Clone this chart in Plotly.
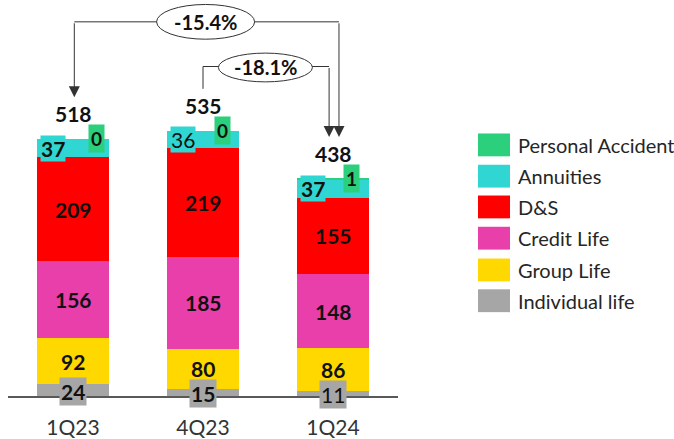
import plotly.graph_objects as go

# Quarterly premiums by line of business
quarters = ["1Q23", "4Q23", "1Q24"]
series_names = ["Individual life", "Group Life", "Credit Life", "D&S", "Annuities", "Personal Accident"]
individual_life = [24, 15, 11]
group_life = [92, 80, 86]
credit_life = [156, 185, 148]
d_and_s = [209, 219, 155]
annuities = [37, 36, 37]
personal_accident = [0, 0, 1]

series_values = [individual_life, group_life, credit_life, d_and_s, annuities, personal_accident]
colors = ["#A6A6A6", "#FFD800", "#E83FAB", "#FF0000", "#30D6D1", "#2BCF7C"]

FONT = "Lato"
TXT = "#111111"

# figure geometry (pixels)
W, H = 674, 439
ML, MR, MT, MB = 8, 276, 0, 40
PW, PH = W - ML - MR, H - MT - MB
Y_MAX = 798.0
U_PER_PX = Y_MAX / PH


def px2paper_x(x):
    return (x - ML) / PW


def px2paper_y(y):
    return (MT + PH - y) / PH


fig = go.Figure()
for name, vals, col in zip(series_names, series_values, colors):
    fig.add_trace(go.Bar(
        x=quarters, y=vals, name=name, marker=dict(color=col, line=dict(width=0)),
        width=0.56, showlegend=False, hoverinfo="skip",
    ))

annotations = []
shapes = []

totals = [sum(v[i] for v in series_values) for i in range(len(quarters))]
plain_labels = {("Annuities", 1), ("Individual life", 2)}
NUM = 21

for i, q in enumerate(quarters):
    base = 0
    for name, vals, col in zip(series_names, series_values, colors):
        v = vals[i]
        mid = base + v / 2
        weight = "normal" if (name, i) in plain_labels else "bold"
        label = dict(x=q, y=mid, xref="x", yref="y", text=str(v), showarrow=False,
                     font=dict(family=FONT, size=NUM, color=TXT, weight=weight))
        if name == "Individual life":
            label.update(bgcolor=col, borderpad=1, yshift=-1)
        elif name == "Annuities":
            label.update(bgcolor=col, borderpad=0, xshift=-20)
        elif name == "Personal Accident":
            label.update(y=base + v, bgcolor=col, borderpad=2, xshift=[23, 19, 18][i],
                         font=dict(family=FONT, size=19, color=TXT, weight="bold"))
        annotations.append(label)
        base += v
    annotations.append(dict(x=q, y=totals[i], xref="x", yref="y", text=str(totals[i]),
                            showarrow=False, yshift=25,
                            font=dict(family=FONT, size=NUM, color=TXT, weight="bold")))

# growth connectors
LINE = "#333333"
arrow_gap = 42 * U_PER_PX


def conn_line(x0, y0, x1, y1):
    shapes.append(dict(type="line", xref="x", yref="y", x0=x0, y0=y0, x1=x1, y1=y1,
                       line=dict(color=LINE, width=1)))


def arrow_down(x, y_from, y_tip):
    annotations.append(dict(x=x, y=y_tip, ax=x, ay=y_from, xref="x", yref="y",
                            axref="x", ayref="y", text="", showarrow=True,
                            arrowhead=2, arrowsize=2.2, arrowwidth=1, arrowcolor=LINE,
                            standoff=0, startstandoff=0))


def bubble(xc, yc, half_w_px, half_h_px, text):
    shapes.append(dict(type="circle", xref="x", yref="y",
                       x0=xc - half_w_px / 130, x1=xc + half_w_px / 130,
                       y0=yc - half_h_px * U_PER_PX, y1=yc + half_h_px * U_PER_PX,
                       fillcolor="white", line=dict(color=LINE, width=1), layer="above"))
    annotations.append(dict(x=xc, y=yc, xref="x", yref="y", text=text, showarrow=False,
                            font=dict(family=FONT, size=20, color=TXT, weight="bold")))


chg_year = (totals[2] - totals[0]) / totals[0] * 100
chg_qtr = (totals[2] - totals[1]) / totals[1] * 100

# 1Q23 -> 1Q24
y_top = (PH + MT - 22) * U_PER_PX
xa, xb = 0.01, 2.046
conn_line(xa, y_top, xb, y_top)
arrow_down(xa, y_top, totals[0] + arrow_gap)
arrow_down(xb, y_top, totals[2] + arrow_gap)
bubble(1.02, y_top, 49, 17.5, f"{chg_year:.1f}%")

# 4Q23 -> 1Q24
y_mid = (PH + MT - 67) * U_PER_PX
xc, xd = 1.0, 1.97
conn_line(xc, totals[1] + arrow_gap, xc, y_mid)
conn_line(xc, y_mid, xd, y_mid)
arrow_down(xd, y_mid, totals[2] + arrow_gap)
bubble(1.48, (PH + MT - 68) * U_PER_PX, 47, 14.5, f"{chg_qtr:.1f}%")

# legend drawn at the right
legend_rows = [146, 177.5, 208.5, 240, 272, 303]
for (name, col), yc in zip(list(zip(series_names, colors))[::-1], legend_rows):
    shapes.append(dict(type="rect", xref="paper", yref="paper",
                       x0=px2paper_x(478), x1=px2paper_x(510),
                       y0=px2paper_y(yc + 11.5), y1=px2paper_y(yc - 11.5),
                       fillcolor=col, line=dict(width=0)))
    annotations.append(dict(x=px2paper_x(516), y=px2paper_y(yc), xref="paper", yref="paper",
                            xanchor="left", yanchor="middle", text=name, showarrow=False,
                            font=dict(family=FONT, size=20, color="#262626")))

fig.update_layout(
    width=W, height=H, margin=dict(l=ML, r=MR, t=MT, b=MB),
    barmode="stack", bargap=0.44,
    plot_bgcolor="white", paper_bgcolor="white",
    annotations=annotations, shapes=shapes,
    xaxis=dict(type="category", range=[-0.5, 2.5], showline=True, linecolor="#595959",
               linewidth=1.5, ticks="", showgrid=False, zeroline=False,
               tickfont=dict(family=FONT, size=21, color="#333333"),
               ticklabelstandoff=12),
    yaxis=dict(range=[0, Y_MAX], visible=False, showgrid=False, zeroline=False),
)

fig.write_html("out.html")
